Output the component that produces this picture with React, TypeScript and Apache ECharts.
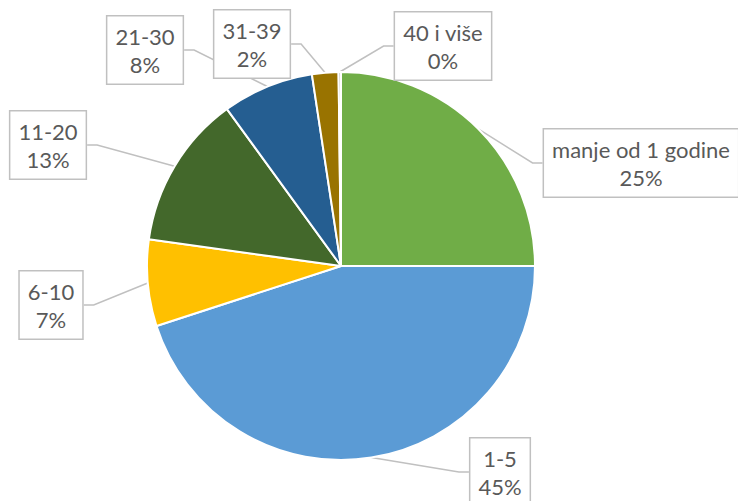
import React, { useEffect, useRef } from "react";
import * as echarts from "echarts";

const categories = ["manje od 1 godine", "1-5", "6-10", "11-20", "21-30", "31-39", "40 i više"];
const values = [25.0, 45.0, 7.2, 12.8, 7.6, 2.2, 0.2];
const colors = ["#70AD47", "#5B9BD5", "#FFC000", "#43682B", "#255E91", "#997300", "#A5A5A5"];
// label box centres (layout)
const labelCenters: [number, number][] = [
  [641, 163],
  [500, 472],
  [51, 305],
  [48, 145],
  [145, 50],
  [252, 44],
  [443, 46],
];

export default function App() {
  const ref = useRef<HTMLDivElement>(null);
  useEffect(() => {
    if (!ref.current) return;
    const chart = echarts.init(ref.current, null, { renderer: "svg" });
    chart.setOption({
      animation: false,
      backgroundColor: "#ffffff",
      series: [
        {
          type: "pie",
          center: [341, 266],
          radius: 194,
          startAngle: 90,
          clockwise: true,
          avoidLabelOverlap: false,
          data: categories.map((c, i) => ({
            name: c,
            value: values[i],
            itemStyle: { color: colors[i] },
          })),
          itemStyle: { borderColor: "#ffffff", borderWidth: 2 },
          label: {
            show: true,
            position: "outside",
            formatter: (p: any) => `${p.name}\n${Math.round(p.percent)}%`,
            fontFamily: "Lato, 'Open Sans', sans-serif",
            fontSize: 22,
            lineHeight: 28,
            color: "#595959",
            align: "center",
            backgroundColor: "#ffffff",
            borderColor: "#c0c0c0",
            borderWidth: 1.5,
            padding: [6, 8, 5, 8],
          },
          labelLine: {
            show: true,
            length: 10,
            length2: 10,
            smooth: false,
            lineStyle: { color: "#c0c0c0", width: 1.5 },
          },
          labelLayout: (params: any) => {
            const c = labelCenters[params.dataIndex];
            return {
              x: c[0],
              y: c[1],
              align: "center",
              verticalAlign: "middle",
            };
          },
        },
      ],
    });
    return () => chart.dispose();
  }, []);
  return (
    <div
      ref={ref}
      style={{ position: "absolute", left: 0, top: 0, width: 738, height: 501 }}
    />
  );
}
